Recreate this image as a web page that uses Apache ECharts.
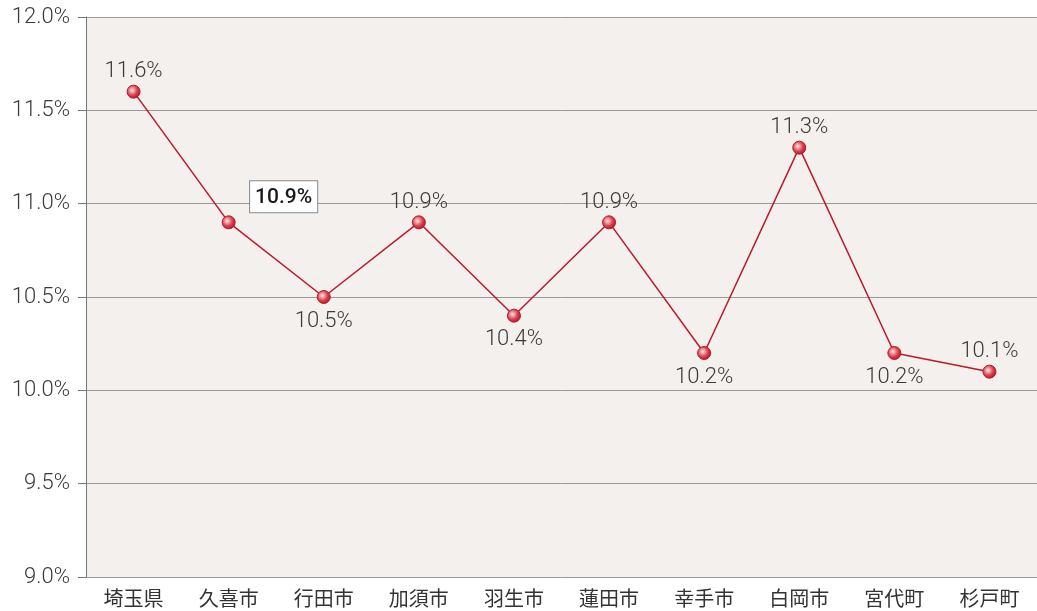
<!DOCTYPE html>
<html>
<head>
<meta charset="utf-8">
<script src="https://cdn.jsdelivr.net/npm/echarts@6/dist/echarts.min.js"></script>
<style>
  html, body { margin: 0; padding: 0; background: #fff; }
  #chart { width: 1037px; height: 611px; }
</style>
</head>
<body>
<div id="chart"></div>
<script>
// 市町別の値（%）
const categories = ['埼玉県', '久喜市', '行田市', '加須市', '羽生市', '蓮田市', '幸手市', '白岡市', '宮代町', '杉戸町'];
const values = [11.6, 10.9, 10.5, 10.9, 10.4, 10.9, 10.2, 11.3, 10.2, 10.1];
// ラベルの上下
const labelSides = ['top', 'box', 'bottom', 'top', 'bottom', 'top', 'bottom', 'top', 'bottom', 'top'];

const numFont = 'Roboto, "Noto Sans", sans-serif';
const jpFont = '"Noto Sans CJK JP", sans-serif';

const chart = echarts.init(document.getElementById('chart'));

const seriesData = values.map((v, i) => {
  const side = labelSides[i];
  if (side === 'box') {
    return {
      value: v,
      label: {
        position: 'top',
        offset: [55, 1],
        fontSize: 21,
        fontWeight: 500,
        fontFamily: 'Roboto, sans-serif',
        color: '#1a1a1a',
        backgroundColor: '#fff',
        borderColor: '#888',
        borderWidth: 1,
        padding: [6, 5, 4, 5]
      }
    };
  }
  return { value: v, label: { position: side } };
});

chart.setOption({
  animation: false,
  grid: {
    left: 86,
    right: -5,
    top: 17,
    bottom: 34,
    show: true,
    backgroundColor: '#f4f0ed',
    borderWidth: 0
  },
  xAxis: {
    type: 'category',
    data: categories,
    axisLine: { show: false },
    axisTick: { show: false },
    axisLabel: {
      color: '#333',
      fontSize: 20,
      fontFamily: jpFont,
      margin: 11
    }
  },
  yAxis: {
    type: 'value',
    min: 9,
    max: 12,
    interval: 0.5,
    axisLine: { show: true, lineStyle: { color: '#777', width: 1 } },
    axisTick: { show: true, length: 8, lineStyle: { color: '#777' } },
    axisLabel: {
      color: '#3a3a3a',
      fontSize: 22,
      fontWeight: 300,
      fontFamily: numFont,
      margin: 16,
      formatter: v => v.toFixed(1) + '%'
    },
    splitLine: { lineStyle: { color: '#999', width: 1 } }
  },
  series: [{
    type: 'line',
    data: seriesData,
    symbol: 'circle',
    symbolSize: 13,
    lineStyle: { color: '#c0172c', width: 1.5 },
    itemStyle: {
      color: {
        type: 'radial', x: 0.4, y: 0.4, r: 0.6,
        colorStops: [
          { offset: 0, color: '#fde4e0' },
          { offset: 0.6, color: '#d9434f' },
          { offset: 1, color: '#b8182a' }
        ]
      },
      borderColor: '#b8182a',
      borderWidth: 1
    },
    label: {
      show: true,
      fontSize: 22,
      fontWeight: 300,
      fontFamily: numFont,
      color: '#3a3a3a',
      distance: 4,
      offset: [0, 2],
      formatter: p => p.value.toFixed(1) + '%'
    }
  }]
});
</script>
</body>
</html>
